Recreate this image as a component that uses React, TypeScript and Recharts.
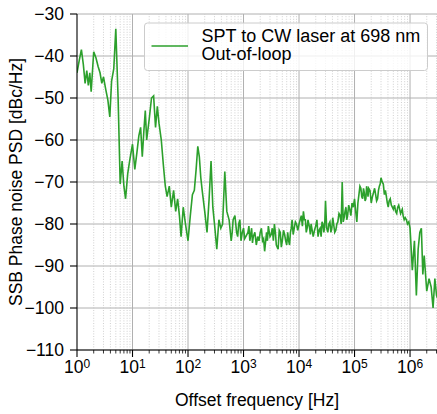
import { CartesianGrid, Line, LineChart, ReferenceLine, XAxis, YAxis } from 'recharts'

const FONT = '"Liberation Sans", Arial, Helvetica, sans-serif'
const GREEN = '#2ca02c'

// offset frequency [Hz], one list per decade
const freq1 = [1, 1.1, 1.2, 1.3, 1.4, 1.5, 1.6, 1.7, 1.8, 2, 2.2, 2.4, 2.6, 2.8, 3, 3.3, 3.6, 3.9, 4.2, 4.6, 5, 5.5, 6, 6.5, 7, 7.5, 8.2, 9]
const psd1 = [-44, -41, -38.5, -42, -46.5, -43.5, -47, -44, -48.5, -39, -40.5, -42.5, -44, -46.5, -45, -48, -50.5, -54.5, -46, -43, -33.5, -50, -70.5, -65, -71, -74, -68, -64.5]

const freq2 = [10, 11, 12, 13, 14, 15, 16, 17, 18, 20, 22, 24, 26, 28, 30, 33, 36, 39, 42, 46, 50, 55, 60, 65, 70, 75, 82, 90]
const psd2 = [-61, -67, -63, -59, -57, -64, -58, -53, -60, -55, -50, -49.5, -57, -52, -56, -60, -66, -71, -73.5, -71, -76, -72, -77, -74, -78, -83, -76, -80]

const freq3 = [100, 110, 120, 130, 140, 150, 160, 170, 180, 200, 220, 240, 260, 280, 300, 330, 360, 390, 420, 460, 500, 550, 600, 625, 650, 700, 725, 750, 785, 820, 860, 900, 950]
const psd3 = [-84, -78, -73, -72, -67, -61.5, -64, -69, -72, -77, -82, -74, -65, -76, -80, -86, -79, -81, -80, -67.5, -77, -79, -84, -82, -79, -78, -80, -82, -83, -80, -79, -84, -82]

const freq4 = [1000, 1050, 1100, 1200, 1250, 1300, 1400, 1450, 1500, 1600, 1700, 1800, 1900, 2000, 2100, 2200, 2300, 2400, 2600, 2700, 2800, 3000, 3150, 3300, 3450, 3600, 3750, 3900, 4200, 4400, 4600, 4800, 5000, 5250, 5500, 5750, 6000, 6250, 6500, 6750, 7000, 7250, 7500, 7850, 8200, 8600, 9000, 9500]
const psd4 = [-81, -83.5, -83, -82, -80.5, -84, -81, -84.5, -83, -82, -85, -83, -84, -82, -81, -84, -83.5, -86.5, -82, -84, -80.5, -83, -82.5, -81, -84, -80, -82, -85, -86, -81.5, -82, -85.5, -84, -81.5, -82.5, -84, -85, -82, -84, -85, -82, -81, -79, -82.5, -81, -79.5, -80, -81.5]

const freq5 = [10000, 10500, 11000, 11500, 12000, 12500, 13000, 13500, 14000, 14500, 15000, 15500, 16000, 16500, 17000, 18000, 19000, 20000, 21000, 22000, 23000, 24000, 25000, 26000, 27000, 28000, 29000, 30000, 31500, 33000, 34500, 36000, 37500, 39000, 40500, 42000, 44000, 46000, 48000, 50000, 52500, 55000, 57500, 60000, 62500, 65000, 67500, 70000, 72500, 75000, 78500, 82000, 86000, 90000, 95000]
const psd5 = [-80, -79, -78, -80.5, -77, -79, -79, -82, -81, -79, -80, -81, -82.5, -80, -81, -83, -81.5, -80.5, -79, -83, -81.5, -81, -83, -79.5, -80, -82, -80.5, -74.5, -81, -82, -80, -79.5, -82, -81, -78.5, -80, -82, -81.5, -80, -79.5, -77.5, -78, -80, -70, -79.5, -78.5, -77, -76, -79, -78, -75.5, -76.5, -78, -75, -76]

const freq6 = [100000, 105000, 110000, 115000, 120000, 125000, 130000, 135000, 140000, 145000, 150000, 155000, 160000, 165000, 170000, 175000, 180000, 190000, 200000, 210000, 220000, 230000, 240000, 250000, 260000, 270000, 280000, 290000, 300000, 315000, 330000, 345000, 360000, 375000, 390000, 405000, 420000, 440000, 460000, 480000, 500000, 525000, 550000, 575000, 600000, 625000, 650000, 675000, 700000, 725000, 750000, 785000, 820000, 860000, 900000, 950000]
const psd6 = [-74, -77, -79.5, -75, -73, -71, -71.5, -73.5, -74, -71.5, -72.5, -74.5, -74, -71, -72, -73.5, -71.5, -72, -75, -73.5, -72.5, -71.5, -73, -74.5, -74, -72, -71, -70.5, -69, -70, -70.5, -73, -72, -73.5, -75, -76, -74.5, -74, -75.5, -76, -76.5, -75.5, -77, -77.5, -76, -75.5, -76.5, -77.5, -77, -76.5, -78, -79, -78.5, -79, -80, -79.5]

const freq7 = [1000000, 1050000, 1100000, 1200000, 1300000, 1400000, 1500000, 1600000, 1700000, 1800000, 2000000, 2200000, 2400000, 2600000, 2800000, 3000000, 3200000]
const psd7 = [-81, -86, -91, -84, -97, -86, -82, -81, -92, -87.5, -96, -93, -95, -100, -93, -97, -98]

const majorTicks = [1, 10, 100, 1e3, 1e4, 1e5, 1e6]
const minorSteps = [2, 3, 4, 5, 6, 7, 8, 9]
const yTicks = [-110, -100, -90, -80, -70, -60, -50, -40, -30]
const X_MAX = 3.06e6

const minorTicks = majorTicks
  .flatMap((d) => minorSteps.map((m) => m * d))
  .filter((v) => v < X_MAX)

const freqHz = [...freq1, ...freq2, ...freq3, ...freq4, ...freq5, ...freq6, ...freq7]
const psdDbc = [...psd1, ...psd2, ...psd3, ...psd4, ...psd5, ...psd6, ...psd7]
const data = freqHz.map((f, i) => ({ f, psd: psdDbc[i] }))

function XTick({ x, y, payload }: any) {
  const lg = Math.log10(payload.value)
  const exp = Math.round(lg)
  const major = Math.abs(lg - exp) < 1e-9
  return (
    <g>
      <line
        x1={x}
        x2={x}
        y1={y}
        y2={y + (major ? 7 : 3.5)}
        stroke="#000"
        strokeWidth={major ? 1.1 : 0.8}
      />
      {major && (
        <text x={x} y={y + 23} textAnchor="middle" fontSize={17.5} fontFamily={FONT} fill="#000">
          10
          <tspan dy={-5.5} fontSize={12}>
            {exp}
          </tspan>
        </text>
      )}
    </g>
  )
}

export default function App() {
  return (
    <div
      style={{
        position: 'absolute',
        left: 0,
        top: 0,
        width: 437,
        height: 414,
        background: '#fff',
        overflow: 'hidden',
        fontFamily: FONT,
      }}
    >
      <LineChart width={437} height={414} data={data} margin={{ top: 14, right: 0, bottom: 0, left: 0 }}>
        <CartesianGrid vertical={false} stroke="#b0b0b0" strokeWidth={1} />
        {minorTicks.map((v) => (
          <ReferenceLine key={`m${v}`} x={v} stroke="#c4c4c4" strokeWidth={0.8} strokeDasharray="1 1.6" />
        ))}
        {majorTicks.slice(1).map((v) => (
          <ReferenceLine key={`M${v}`} x={v} stroke="#b0b0b0" strokeWidth={1} />
        ))}
        <XAxis
          dataKey="f"
          type="number"
          scale="log"
          domain={[1, X_MAX]}
          allowDataOverflow
          ticks={[...majorTicks, ...minorTicks].sort((a, b) => a - b)}
          interval={0}
          height={64}
          tickSize={0}
          tickMargin={0}
          tickLine={false}
          tick={<XTick />}
          axisLine={{ stroke: '#000', strokeWidth: 1.1 }}
        />
        <YAxis
          type="number"
          domain={[-110, -30]}
          ticks={yTicks}
          interval={0}
          width={77}
          tickSize={7}
          tickMargin={6}
          axisLine={{ stroke: '#000', strokeWidth: 1.1 }}
          tickLine={{ stroke: '#000', strokeWidth: 1.1 }}
          tick={{ fontSize: 17.5, fill: '#000', fontFamily: FONT }}
          tickFormatter={(v: number) => String(v).replace('-', '\u2212')}
        />
        <Line
          type="linear"
          dataKey="psd"
          stroke={GREEN}
          strokeWidth={1.6}
          dot={false}
          isAnimationActive={false}
        />
      </LineChart>
      <svg
        width={437}
        height={414}
        style={{ position: 'absolute', left: 0, top: 0, pointerEvents: 'none' }}
        fontFamily={FONT}
      >
        <text transform="translate(22,182) rotate(-90)" textAnchor="middle" fontSize={17.5} fill="#000">
          SSB Phase noise PSD [dBc/Hz]
        </text>
        <text x={257} y={406} textAnchor="middle" fontSize={17.5} fill="#000">
          Offset frequency [Hz]
        </text>
        <rect x={144.5} y={23} width={283} height={47.5} rx={3} fill="#fff" fillOpacity={0.8} stroke="#cccccc" />
        <line x1={151.5} x2={188} y1={46} y2={46} stroke={GREEN} strokeWidth={1.6} />
        <text x={201.5} y={41.7} fontSize={18} fill="#000">
          SPT to CW laser at 698 nm
        </text>
        <text x={201.5} y={60} fontSize={18} fill="#000">
          Out-of-loop
        </text>
      </svg>
    </div>
  )
}
